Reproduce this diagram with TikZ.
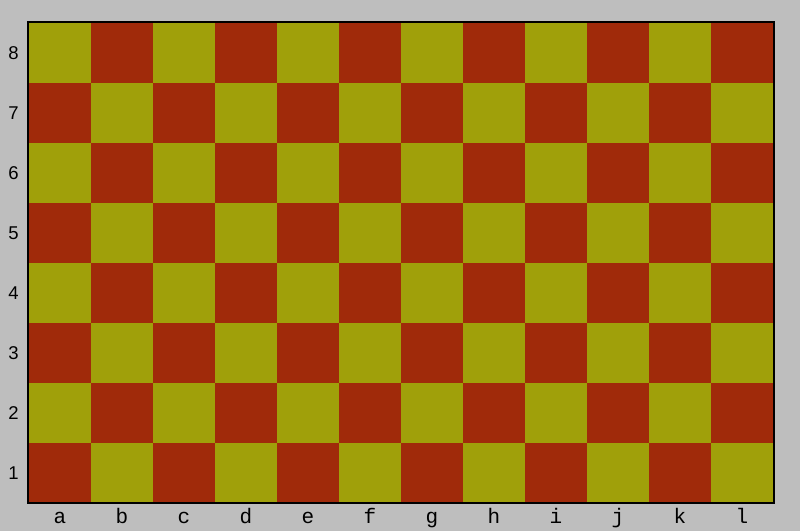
\documentclass[tikz,border=0pt]{standalone}
\usepackage{fontspec}
\setmainfont{Liberation Sans}
\setmonofont{Liberation Mono}
\definecolor{bg}{RGB}{190,190,190}
\definecolor{sqlight}{RGB}{160,160,10}
\definecolor{sqdark}{RGB}{160,42,10}
\begin{document}
\begin{tikzpicture}[x=1pt,y=-1pt,
  rowlab/.style={font=\fontsize{18.5}{18.5}\selectfont, inner sep=0pt, anchor=center},
  collab/.style={font=\ttfamily\fontsize{21}{21}\selectfont, inner sep=0pt, anchor=base}]
\fill[bg] (0,0) rectangle (800,531);
\useasboundingbox (0,0) rectangle (800,531);
\foreach \c in {0,...,11}{
  \foreach \r in {0,...,7}{
    \pgfmathtruncatemacro{\p}{mod(\c+\r,2)}
    \ifnum\p=0
      \fill[sqlight] (29+62*\c,23+60*\r) rectangle (29+62*\c+62,23+60*\r+60);
    \else
      \fill[sqdark] (29+62*\c,23+60*\r) rectangle (29+62*\c+62,23+60*\r+60);
    \fi
  }
}
\draw[line width=2pt, black] (28,22) rectangle (774,503);
\foreach \n [count=\i from 0] in {8,7,6,5,4,3,2,1}{
  \node[rowlab] (r\n) at (13.5,53.5+60*\i) {\n};
}
\foreach \l [count=\i from 0] in {a,b,c,d,e,f,g,h,i,j,k,l}{
  \node[collab] (c\l) at (60+62*\i,523) {\l};
}
\end{tikzpicture}
\end{document}
